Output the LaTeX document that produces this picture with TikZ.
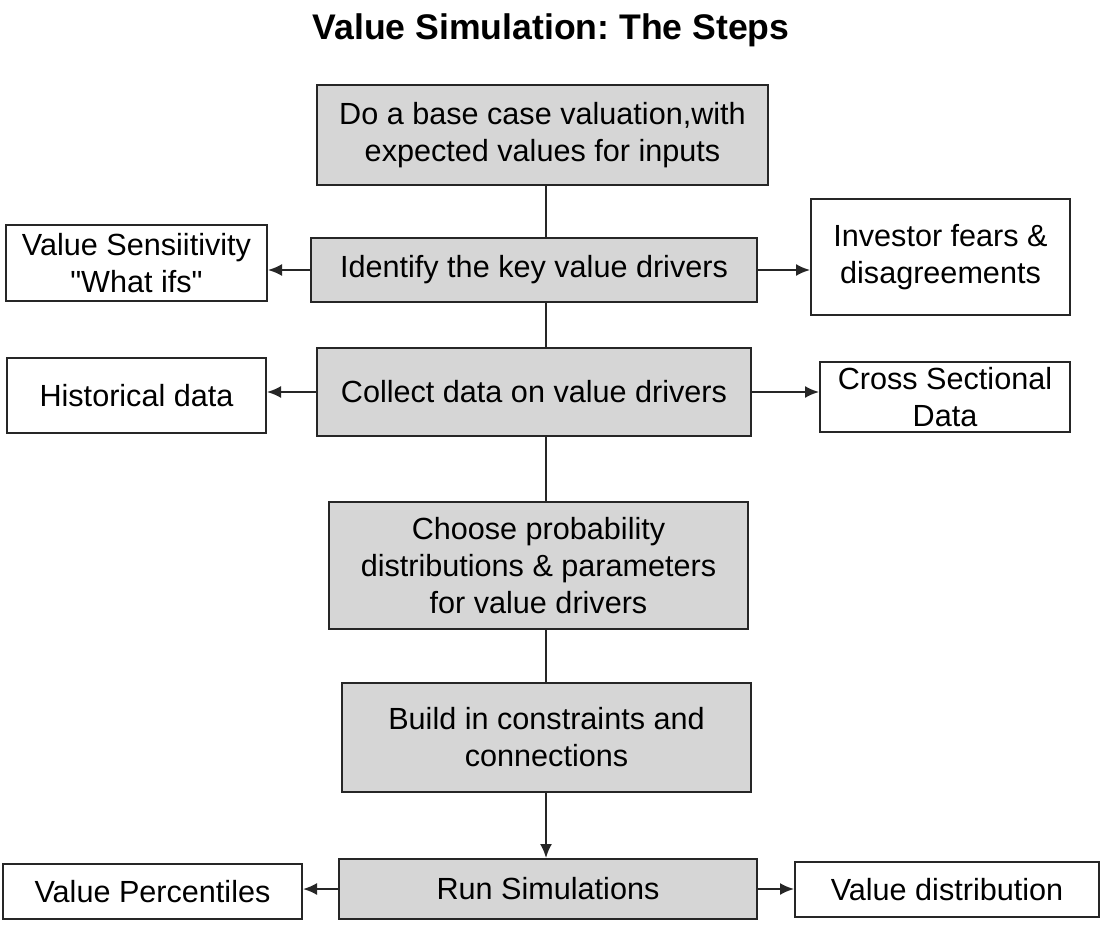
\documentclass[tikz,border=0pt]{standalone}
\usepackage{fontspec}
\setmainfont{Liberation Sans}[Ligatures=TeXOff]
\usetikzlibrary{arrows.meta}
\frenchspacing
\definecolor{boxgray}{RGB}{214,214,214}
\tikzset{
	stepbox/.style = {draw = black!85, line width = 1pt, fill = boxgray, align = center,
		inner sep = 0pt, font = \fontsize{15.3}{18.5}\selectfont},
	sidebox/.style = {stepbox, fill = white},
	link/.style = {line width = 1pt, black!85}
}
\begin{document}
\begin{tikzpicture}[> = {Latex[length = 7pt, width = 6pt]}, x = 0.5pt, y = -0.5pt]

	\useasboundingbox [fill = white] (0, 0) rectangle (1102, 930);

	% Title

	\node (title) at (551, 30) {\fontsize{17.8}{20}\selectfont\bfseries Value Simulation: The Steps};

	% Main steps

	\node [stepbox, minimum width = 225.5pt, minimum height = 50pt] (base) at (542.5, 135) {Do a base case valuation,with\\expected values for inputs};
	\node [stepbox, minimum width = 223pt, minimum height = 32pt] (identify) at (534, 270) {Identify the key value drivers};
	\node [stepbox, minimum width = 217pt, minimum height = 44pt] (collect) at (534, 392) {Collect data on value drivers};
	\node [stepbox, minimum width = 209.5pt, minimum height = 63.5pt] (choose) at (538.5, 565.5) {Choose probability\\distributions \& parameters\\for value drivers};
	\node [stepbox, minimum width = 204.5pt, minimum height = 54.5pt] (build) at (546.5, 737.5) {Build in constraints and\\connections};
	\node [stepbox, minimum width = 209pt, minimum height = 30pt] (run) at (548, 889) {Run Simulations};

	% Side boxes

	\node [sidebox, minimum width = 130.5pt, minimum height = 38pt] (sens) at (136.5, 263) {Value Sensiitivity\\"What ifs"};
	\node [sidebox, minimum width = 129.5pt, minimum height = 58pt] (fears) at (940.5, 257) {Investor fears \&\\disagreements};
	\node [sidebox, minimum width = 129.5pt, minimum height = 37.5pt] (hist) at (136.5, 395.5) {Historical data};
	\node [sidebox, minimum width = 125pt, minimum height = 35pt] (cross) at (945, 397) {Cross Sectional\\Data};
	\node [sidebox, minimum width = 149.5pt, minimum height = 27.5pt] (pct) at (152.5, 891.5) {Value Percentiles};
	\node [sidebox, minimum width = 152pt, minimum height = 27.5pt] (dist) at (947, 889.5) {Value distribution};

	% Spine

	\coordinate (spine) at (546, 0);
	\foreach \a/\b in {base/identify, identify/collect, collect/choose, choose/build}
		\draw [link] (\a.south -| spine) -- (\b.north -| spine);
	\draw [link, ->] (build.south -| spine) -- (run.north -| spine);

	% Side arrows

	\foreach \s/\l/\r in {identify/sens/fears, collect/hist/cross, run/pct/dist} {
		\draw [link, ->] (\s.west) -- (\s.west -| \l.east);
		\draw [link, ->] (\s.east) -- (\s.east -| \r.west);
	}

\end{tikzpicture}
\end{document}
